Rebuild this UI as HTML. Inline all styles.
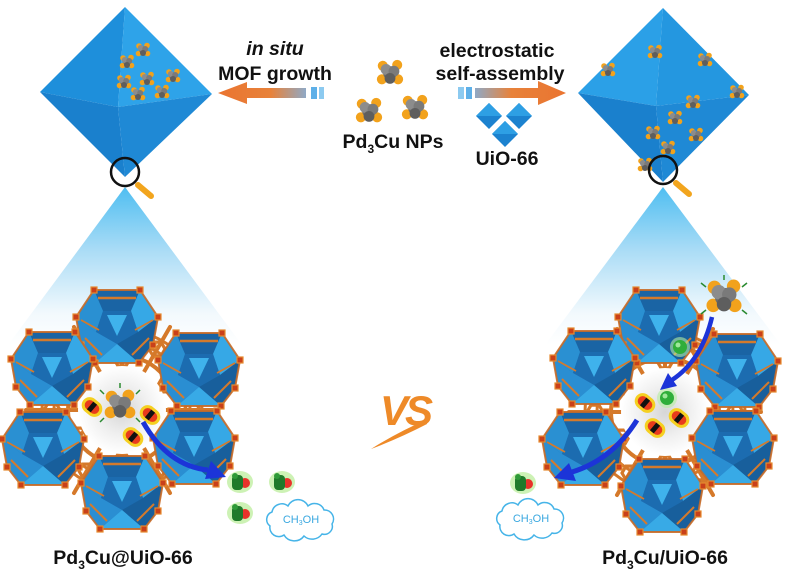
<!DOCTYPE html>
<html><head><meta charset="utf-8"><style>
html,body{margin:0;padding:0;background:#fff;}
svg{display:block;}
text{font-family:"Liberation Sans",Arial,sans-serif;font-weight:bold;fill:#111;}
</style></head><body>
<svg width="785" height="578" viewBox="0 0 785 578" xmlns="http://www.w3.org/2000/svg" xmlns:xlink="http://www.w3.org/1999/xlink">
<defs>
 <linearGradient id="cone" x1="0" y1="0" x2="0" y2="1">
  <stop offset="0" stop-color="#4fbef1"/>
  <stop offset="0.4" stop-color="#aadcf6"/>
  <stop offset="0.8" stop-color="#f2f9fd"/>
  <stop offset="1" stop-color="#ffffff"/>
 </linearGradient>
 <radialGradient id="pore"><stop offset="0" stop-color="#d6d6d6"/><stop offset="0.55" stop-color="#efefef"/><stop offset="1" stop-color="#ffffff"/></radialGradient>
 <linearGradient id="arL" x1="0" y1="0" x2="1" y2="0">
  <stop offset="0" stop-color="#ea7430"/><stop offset="0.6" stop-color="#e8823a"/><stop offset="1" stop-color="#8fa9c6"/>
 </linearGradient>
 <linearGradient id="arR" x1="0" y1="0" x2="1" y2="0">
  <stop offset="0" stop-color="#8fa9c6"/><stop offset="0.4" stop-color="#e8823a"/><stop offset="1" stop-color="#ea7430"/>
 </linearGradient>
 <g id="np">
  <circle cx="-4" cy="-4" r="2.8" fill="#f2a21c"/>
  <circle cx="4" cy="-4.5" r="2.8" fill="#f2a21c"/>
  <circle cx="-4.5" cy="3.5" r="2.8" fill="#f2a21c"/>
  <circle cx="4.5" cy="3.5" r="2.8" fill="#f2a21c"/>
  <circle cx="0" cy="0" r="3.8" fill="#6e6e6e"/>
  <circle cx="-2.2" cy="-2" r="3" fill="#8c8c8c"/>
  <circle cx="2.2" cy="-1" r="3" fill="#7a7a7a"/>
  <circle cx="0" cy="3" r="3" fill="#5e5e5e"/>
 </g>
 <g id="dd">
  <polygon points="-23,-36 23,-36 41,-9 36,19 22,37 -22,37 -36,19 -41,-9" fill="#1d74b8"/>
  <polygon points="-23,-36 23,-36 14,-15 -14,-15" fill="#1a64a4"/>
  <polygon points="23,-36 41,-9 21,6 14,-15" fill="#36a8e6"/>
  <polygon points="-41,-9 -23,-36 -14,-15 -21,6" fill="#2a90d2"/>
  <polygon points="-14,-15 14,-15 21,6 0,18 -21,6" fill="#1c6cb0"/>
  <polygon points="-10,-11 10,-11 0,10" fill="#3fb2ec"/>
  <polygon points="41,-9 36,19 22,37 0,18 21,6" fill="#185f9c"/>
  <polygon points="-41,-9 -21,6 0,18 -22,37 -36,19" fill="#2a8ed2"/>
  <polygon points="0,18 22,37 -22,37" fill="#38aae6"/>
  <polygon points="-23,-36 23,-36 41,-9 36,19 22,37 -22,37 -36,19 -41,-9" fill="none" stroke="#c96a26" stroke-width="2" opacity="0.9"/>
  <line x1="-19" y1="-28" x2="19" y2="-28" stroke="#d47a2c" stroke-width="2.5"/>
  <line x1="-32" y1="12" x2="-15" y2="29" stroke="#d47a2c" stroke-width="2"/>
  <line x1="32" y1="12" x2="15" y2="29" stroke="#d47a2c" stroke-width="2"/>
  <line x1="-36" y1="-6" x2="-18" y2="4" stroke="#d47a2c" stroke-width="1.8"/>
  <line x1="36" y1="-6" x2="18" y2="4" stroke="#d47a2c" stroke-width="1.8"/>
  <g fill="#c9401a" stroke="#e68a30" stroke-width="1.2">
   <rect x="-26" y="-39" width="6" height="6"/>
   <rect x="20" y="-39" width="6" height="6"/>
   <rect x="38" y="-12" width="6" height="6"/>
   <rect x="33" y="16" width="6" height="6"/>
   <rect x="19" y="34" width="6" height="6"/>
   <rect x="-25" y="34" width="6" height="6"/>
   <rect x="-39" y="16" width="6" height="6"/>
   <rect x="-44" y="-12" width="6" height="6"/>
  </g>
 </g>
 <polygon id="hx" points="8,0 4,6.9 -4,6.9 -8,0 -4,-6.9 4,-6.9" fill="none" stroke="#d5792a" stroke-width="3.2"/>
 <g id="fw">
  <g fill="none" stroke="#d5792a" stroke-width="4" stroke-linecap="round">
   <circle r="54"/>
   <circle r="68" stroke-width="3"/>
   <circle r="80" stroke-width="3"/>
   <line x1="40" y1="0" x2="96" y2="0"/>
   <line x1="34.6" y1="20" x2="83" y2="48"/>
   <line x1="20" y1="34.6" x2="48" y2="83"/>
   <line x1="0" y1="40" x2="0" y2="96"/>
   <line x1="-20" y1="34.6" x2="-48" y2="83"/>
   <line x1="-34.6" y1="20" x2="-83" y2="48"/>
   <line x1="-40" y1="0" x2="-96" y2="0"/>
   <line x1="-34.6" y1="-20" x2="-83" y2="-48"/>
   <line x1="-20" y1="-34.6" x2="-48" y2="-83"/>
   <line x1="0" y1="-40" x2="0" y2="-96"/>
   <line x1="20" y1="-34.6" x2="48" y2="-83"/>
   <line x1="34.6" y1="-20" x2="83" y2="-48"/>
  </g>
  <use xlink:href="#hx" x="70" y="0"/>
  <use xlink:href="#hx" x="35" y="61"/>
  <use xlink:href="#hx" x="-35" y="61"/>
  <use xlink:href="#hx" x="-70" y="0"/>
  <use xlink:href="#hx" x="-35" y="-61"/>
  <use xlink:href="#hx" x="35" y="-61"/>
  <use xlink:href="#hx" x="0" y="-51"/>
  <use xlink:href="#hx" x="44" y="-25"/>
  <use xlink:href="#hx" x="44" y="25"/>
  <use xlink:href="#hx" x="0" y="51"/>
  <use xlink:href="#hx" x="-44" y="25"/>
  <use xlink:href="#hx" x="-44" y="-25"/>
 </g>
 <g id="pill">
  <rect x="-11" y="-8" width="22" height="16" rx="8" fill="#f5d020"/>
  <rect x="-8" y="-5" width="16" height="10" rx="5" fill="#e83b1c"/>
  <rect x="-2.5" y="-5" width="5" height="10" fill="#111"/>
 </g>
 <g id="meoh">
  <ellipse cx="0" cy="0" rx="13" ry="11" fill="#c4f0a8" opacity="0.85"/>
  <circle cx="5" cy="1" r="5" fill="#e8322a"/>
  <rect x="-8" y="-7" width="11" height="15" rx="4" fill="#1f7a2a"/>
  <circle cx="-5" cy="-6" r="3" fill="#2e9a38"/>
 </g>
 <g id="hb">
  <circle r="10" fill="#b6eea0" opacity="0.6"/>
  <circle r="7" fill="#2fae3a"/>
  <circle cx="-2" cy="-2" r="2.5" fill="#9ee89a"/>
 </g>
 <path id="cloud" d="M -30,8 a8,8 0 0 1 2,-14 a10,10 0 0 1 16,-6 a11,11 0 0 1 20,0 a10,10 0 0 1 16,4 a9,9 0 0 1 8,14 a8,8 0 0 1 -10,10 a12,12 0 0 1 -18,2 a12,12 0 0 1 -20,-1 a9,9 0 0 1 -14,-9 z" fill="#fff" stroke="#46b4e8" stroke-width="1.5"/>
</defs>

<!-- cones -->
<polygon points="125,187 8,345 242,345" fill="url(#cone)"/>
<polygon points="663,187 545,345 781,345" fill="url(#cone)"/>

<!-- left octahedron -->
<polygon points="125,7 40,92 118,107" fill="#1e8fdb"/>
<polygon points="125,7 118,107 212,94" fill="#2ea3e9"/>
<polygon points="40,92 118,107 125,177" fill="#1a80cd"/>
<polygon points="118,107 212,94 125,177" fill="#1f89d5"/>
<use xlink:href="#np" x="143" y="50"/>
<use xlink:href="#np" x="127" y="62"/>
<use xlink:href="#np" x="147" y="79"/>
<use xlink:href="#np" x="173" y="76"/>
<use xlink:href="#np" x="124" y="82"/>
<use xlink:href="#np" x="138" y="94"/>
<use xlink:href="#np" x="162" y="92"/>
<circle cx="125" cy="172" r="14" fill="none" stroke="#111" stroke-width="2.5"/>
<line x1="138" y1="185" x2="151" y2="196" stroke="#f2a51e" stroke-width="6" stroke-linecap="round"/>

<!-- right octahedron -->
<polygon points="663,8 578,93 656,106" fill="#2ba0e7"/>
<polygon points="663,8 656,106 749,95" fill="#2497e0"/>
<polygon points="578,93 656,106 663,182" fill="#1a80cd"/>
<polygon points="656,106 749,95 663,182" fill="#1f89d5"/>
<use xlink:href="#np" x="655" y="52"/>
<use xlink:href="#np" x="705" y="60"/>
<use xlink:href="#np" x="608" y="70"/>
<use xlink:href="#np" x="737" y="92"/>
<use xlink:href="#np" x="693" y="102"/>
<use xlink:href="#np" x="675" y="118"/>
<use xlink:href="#np" x="653" y="133"/>
<use xlink:href="#np" x="696" y="135"/>
<use xlink:href="#np" x="668" y="148"/>
<use xlink:href="#np" x="645" y="165"/>
<circle cx="663" cy="170" r="14" fill="none" stroke="#111" stroke-width="2.5"/>
<line x1="676" y1="183" x2="689" y2="194" stroke="#f2a51e" stroke-width="6" stroke-linecap="round"/>

<!-- top texts and arrows -->
<text x="275" y="55" font-size="19.5" font-style="italic" text-anchor="middle">in situ</text>
<text x="275" y="80" font-size="19.5" text-anchor="middle">MOF growth</text>
<polygon points="218,93 247,82 247,88 306,88 306,98 247,98 247,104" fill="url(#arL)"/>
<rect x="311" y="87" width="6" height="12" fill="#5eb0e8"/>
<rect x="319" y="87" width="5" height="12" fill="#8ccaf0"/>

<text x="497" y="57" font-size="19.5" text-anchor="middle">electrostatic</text>
<text x="500" y="80" font-size="19.5" text-anchor="middle">self-assembly</text>
<rect x="458" y="87" width="6" height="12" fill="#8ccaf0"/>
<rect x="466" y="87" width="6" height="12" fill="#5eb0e8"/>
<polygon points="475,88 538,88 538,81 566,93 538,105 538,98 475,98" fill="url(#arR)"/>

<g transform="translate(390,73) scale(1.8)"><use xlink:href="#np"/></g>
<g transform="translate(369,111) scale(1.8)"><use xlink:href="#np"/></g>
<g transform="translate(415,108) scale(1.8)"><use xlink:href="#np"/></g>
<text x="393" y="148" font-size="19.5" text-anchor="middle">Pd<tspan font-size="12" dy="5">3</tspan><tspan dy="-5">Cu NPs</tspan></text>

<polygon points="489,103 502,116 489,129 476,116" fill="#1c82cf"/>
<polygon points="489,103 502,116 476,116" fill="#2e9fe4"/>
<polygon points="519,103 532,116 519,129 506,116" fill="#1c82cf"/>
<polygon points="519,103 532,116 506,116" fill="#2e9fe4"/>
<polygon points="505,121 518,134 505,147 492,134" fill="#1c82cf"/>
<polygon points="505,121 518,134 492,134" fill="#2e9fe4"/>
<text x="507" y="165" font-size="19.5" text-anchor="middle">UiO-66</text>

<!-- left lattice -->
<use xlink:href="#fw" x="122" y="410"/>
<circle cx="122" cy="410" r="44" fill="url(#pore)"/>
<use xlink:href="#dd" x="117" y="326"/>
<use xlink:href="#dd" x="52" y="368"/>
<use xlink:href="#dd" x="199" y="369"/>
<use xlink:href="#dd" x="43" y="448"/>
<use xlink:href="#dd" x="194" y="447"/>
<use xlink:href="#dd" x="122" y="492"/>
<g transform="translate(120,405) scale(2.1)"><use xlink:href="#np"/></g>
<g stroke="#2a8a30" stroke-width="1.5">
 <line x1="104" y1="394" x2="100" y2="390"/><line x1="136" y1="394" x2="140" y2="390"/>
 <line x1="104" y1="418" x2="100" y2="422"/><line x1="136" y1="418" x2="140" y2="422"/>
 <line x1="120" y1="388" x2="120" y2="383"/>
</g>
<g transform="translate(92,407) rotate(40)"><use xlink:href="#pill"/></g>
<g transform="translate(150,415) rotate(40)"><use xlink:href="#pill"/></g>
<g transform="translate(133,437) rotate(40)"><use xlink:href="#pill"/></g>
<path d="M143,422 Q168,466 208,470" fill="none" stroke="#1c34d8" stroke-width="5"/>
<polygon points="226,477 205,479 211,461" fill="#1c34d8"/>

<use xlink:href="#meoh" x="240" y="482"/>
<use xlink:href="#meoh" x="282" y="482"/>
<use xlink:href="#meoh" x="240" y="513"/>
<use xlink:href="#cloud" x="300" y="518"/>
<text x="301" y="523" font-size="11" text-anchor="middle" style="font-weight:normal;fill:#3aa8e0">CH<tspan font-size="7" dy="2">3</tspan><tspan dy="-2">OH</tspan></text>

<!-- VS -->
<text x="405" y="425" font-size="42" font-style="italic" text-anchor="middle" letter-spacing="-3" style="fill:#ee8a28">VS</text>
<path d="M371,449 Q398,432 426,420 L427,424 Q400,438 371,449 z" fill="#ee8a28"/>

<!-- right lattice -->
<use xlink:href="#fw" x="665" y="412"/>
<circle cx="665" cy="412" r="44" fill="url(#pore)"/>
<use xlink:href="#dd" x="659" y="326"/>
<use xlink:href="#dd" x="594" y="367"/>
<use xlink:href="#dd" x="737" y="370"/>
<use xlink:href="#dd" x="583" y="448"/>
<use xlink:href="#dd" x="733" y="447"/>
<use xlink:href="#dd" x="662" y="495"/>
<g transform="translate(645,403) rotate(40)"><use xlink:href="#pill"/></g>
<g transform="translate(679,418) rotate(40)"><use xlink:href="#pill"/></g>
<g transform="translate(655,428) rotate(40)"><use xlink:href="#pill"/></g>
<use xlink:href="#hb" x="680" y="347"/>
<use xlink:href="#hb" x="667" y="398"/>
<g transform="translate(724,297) scale(2.4)"><use xlink:href="#np"/></g>
<g stroke="#2a8a30" stroke-width="1.5">
 <line x1="706" y1="287" x2="701" y2="283"/><line x1="742" y1="287" x2="747" y2="283"/>
 <line x1="706" y1="310" x2="701" y2="314"/><line x1="742" y1="310" x2="747" y2="314"/>
 <line x1="724" y1="280" x2="724" y2="275"/>
</g>
<path d="M712,317 Q702,360 672,380" fill="none" stroke="#1c34d8" stroke-width="4.5"/>
<polygon points="660,390 668,373 677,386" fill="#1c34d8"/>
<path d="M637,420 Q612,460 572,472" fill="none" stroke="#1c34d8" stroke-width="5"/>
<polygon points="554,478 569,463 576,481" fill="#1c34d8"/>
<use xlink:href="#meoh" x="523" y="483"/>
<use xlink:href="#cloud" x="530" y="517"/>
<text x="531" y="522" font-size="11" text-anchor="middle" style="font-weight:normal;fill:#3aa8e0">CH<tspan font-size="7" dy="2">3</tspan><tspan dy="-2">OH</tspan></text>

<!-- bottom labels -->
<text x="123" y="564" font-size="19.5" text-anchor="middle">Pd<tspan font-size="12" dy="5">3</tspan><tspan dy="-5">Cu@UiO-66</tspan></text>
<text x="665" y="564" font-size="19.5" text-anchor="middle">Pd<tspan font-size="12" dy="5">3</tspan><tspan dy="-5">Cu/UiO-66</tspan></text>
</svg>
</body></html>
